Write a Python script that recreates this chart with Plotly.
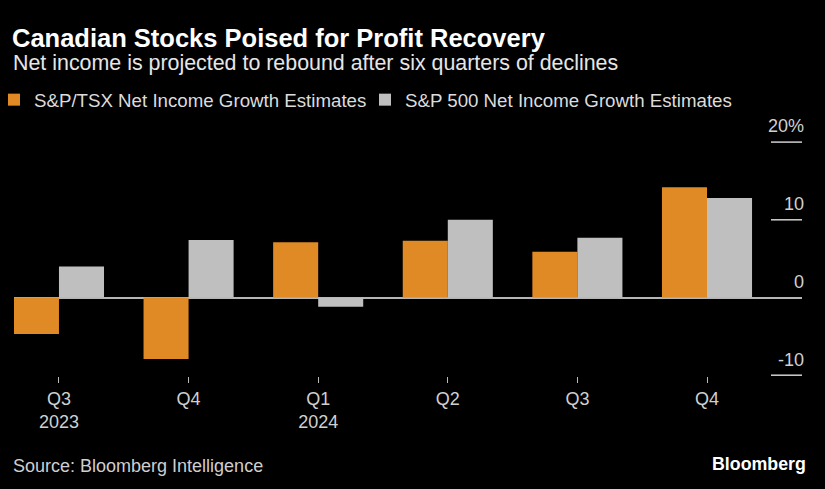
import plotly.graph_objects as go

categories = ["Q3<br>2023", "Q4", "Q1<br>2024", "Q2", "Q3", "Q4"]
tsx_values = [-4.7, -7.9, 7.1, 7.3, 5.9, 14.2]
spx_values = [4.0, 7.4, -1.2, 10.0, 7.7, 12.8]
series_names = ["S&P/TSX Net Income Growth Estimates", "S&P 500 Net Income Growth Estimates"]
ytick_vals = [-10, 0, 10, 20]
ytick_text = ["-10", "0", "10", "20%"]

ORANGE = "#e08a26"
GRAY = "#bfbfbf"
FONT = "Liberation Sans, Arial, sans-serif"

xpos = list(range(len(categories)))

fig = go.Figure()
fig.add_trace(go.Bar(x=xpos, y=tsx_values, name=series_names[0], legend="legend",
                     marker=dict(color=ORANGE, line=dict(width=0))))
fig.add_trace(go.Bar(x=xpos, y=spx_values, name=series_names[1], legend="legend2",
                     marker=dict(color=GRAY, line=dict(width=0))))

W, H = 825, 489
L, R, T, B = 14, 23, 112, 113
pw = W - L - R
ph = H - T - B
zero_px = 297.5
px_per_unit = 7.77
y_top = (zero_px - T) / px_per_unit
y_bot = -((H - B) - zero_px) / px_per_unit

shapes = []
for v in ytick_vals:
    if v == 0:
        continue
    shapes.append(dict(type="line", xref="paper", yref="y", x0=(771 - L) / pw, x1=1, y0=v, y1=v,
                       line=dict(color="#d0d0d0", width=1.5)))

legend_common = dict(orientation="h", yref="paper", y=1 + (T - 100) / ph, yanchor="middle",
                     xanchor="left", font=dict(family=FONT, size=18.7, color="#dcdcdc"),
                     bgcolor="rgba(0,0,0,0)", itemwidth=30)

fig.update_layout(
    width=W, height=H,
    paper_bgcolor="black", plot_bgcolor="black",
    margin=dict(l=L, r=R, t=T, b=B, autoexpand=False),
    barmode="group", bargap=0.305, bargroupgap=0,
    showlegend=True,
    legend=dict(legend_common, xref="paper", x=(-6 - L) / pw),
    legend2=dict(legend_common, xref="paper", x=(365 - L) / pw),
    title=dict(text="<b>Canadian Stocks Poised for Profit Recovery</b>", xref="container", yref="container",
               x=12 / W, xanchor="left", y=1 - 38 / H, yanchor="middle",
               font=dict(family=FONT, size=25.5, color="white")),
    annotations=[
        dict(text="Net income is projected to rebound after six quarters of declines", xref="paper", yref="paper",
             x=-3 / pw, xanchor="left", y=1 + (T - 63) / ph, yanchor="middle", showarrow=False,
             font=dict(family=FONT, size=21.4, color="#e6e6e6")),
        dict(text="Source: Bloomberg Intelligence", xref="paper", yref="paper",
             x=-3 / pw, xanchor="left", y=-(466 - (H - B)) / ph, yanchor="middle", showarrow=False,
             font=dict(family=FONT, size=18, color="#cfcfcf")),
        dict(text="<b>Bloomberg</b>", xref="paper", yref="paper",
             x=(808 - L) / pw, xanchor="right", y=-(464 - (H - B)) / ph, yanchor="middle", showarrow=False,
             font=dict(family=FONT, size=17.8, color="white")),
    ],
    shapes=shapes,
    xaxis=dict(range=[-0.347, 5.733], tickvals=xpos, ticktext=categories, ticks="outside", ticklen=6,
               tickwidth=1, tickcolor="#bbbbbb", showgrid=False, zeroline=False, showline=False,
               tickfont=dict(family=FONT, size=18, color="#d0d0d0")),
    yaxis=dict(range=[y_bot, y_top], side="right", tickvals=ytick_vals, ticktext=ytick_text,
               ticklabelposition="inside", ticklabelshift=-16, ticklabelstandoff=-5, ticks="", showgrid=False,
               zeroline=True, zerolinecolor="#b5b5b5", zerolinewidth=2, showline=False,
               tickfont=dict(family=FONT, size=18, color="#d0d0d0")),
)

fig.write_html("out.html", config={"displayModeBar": False},
               post_script="document.body.style.margin='0';")
